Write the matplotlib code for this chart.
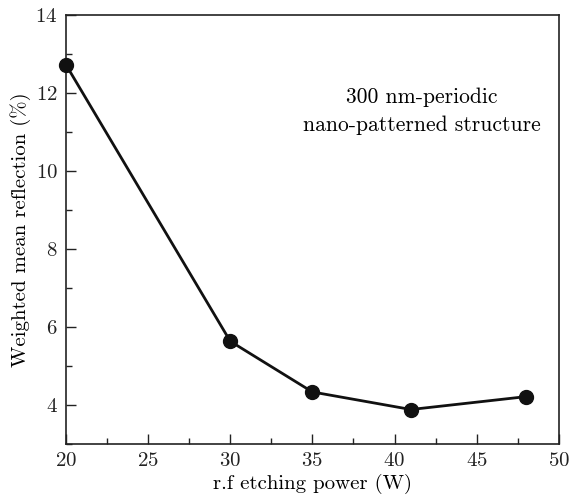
import matplotlib
matplotlib.use("Agg")
import matplotlib.pyplot as plt
from matplotlib.ticker import MultipleLocator

plt.rcParams["font.family"] = "serif"
plt.rcParams["font.serif"] = ["cmr10"]
plt.rcParams["mathtext.fontset"] = "cm"
plt.rcParams["axes.unicode_minus"] = False
plt.rcParams["axes.formatter.use_mathtext"] = True

# r.f etching power (W) and weighted mean reflection (%)
power = [20, 30, 35, 41, 48]
reflection = [12.72, 5.63, 4.33, 3.88, 4.21]

fig = plt.figure(figsize=(5.69, 4.97), dpi=100)
ax = fig.add_axes([0.116, 0.107, 0.866, 0.863])

ax.plot(power, reflection, color="#111111", lw=2.0, marker="o", ms=10,
        markerfacecolor="#111111", markeredgecolor="#111111", clip_on=False, zorder=3)

ax.set_xlim(20, 50)
ax.set_ylim(3, 14)
ax.xaxis.set_major_locator(MultipleLocator(5))
ax.xaxis.set_minor_locator(MultipleLocator(2.5))
ax.yaxis.set_major_locator(MultipleLocator(2))
ax.yaxis.set_minor_locator(MultipleLocator(1))
ax.tick_params(which="both", direction="in", top=False, right=False,
               labelsize=15, width=1.0, colors="#222222")
ax.tick_params(which="major", length=7, pad=6)
ax.tick_params(which="minor", length=4)
for s in ax.spines.values():
    s.set_linewidth(1.2)
    s.set_color("#222222")

ax.set_xlabel("r.f etching power (W)", fontsize=15, labelpad=3)
ax.set_ylabel("Weighted mean reflection (%)", fontsize=15, labelpad=3)

ax.text(0.722, 0.776, "300 nm-periodic\nnano-patterned structure",
        transform=ax.transAxes, ha="center", va="center", fontsize=15.5,
        linespacing=1.55)

fig.savefig("out.png", dpi=100)
